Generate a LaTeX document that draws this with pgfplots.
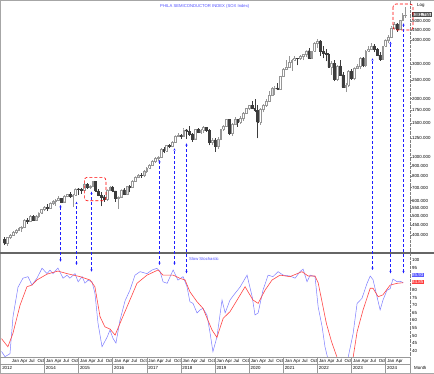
\documentclass[border=0pt]{standalone}
\usepackage{pgfplots}
\pgfplotsset{compat=1.18}
\usepackage{pgfplotstable}
\usepackage{fontspec}
\setmainfont{Liberation Sans}
\usetikzlibrary{arrows.meta}
\definecolor{kblue}{RGB}{125,125,255}
\definecolor{dred}{RGB}{255,70,70}
\definecolor{arrowblue}{RGB}{30,30,255}
\definecolor{titleblue}{RGB}{80,80,255}
\definecolor{candown}{RGB}{60,60,60}
\definecolor{cedge}{RGB}{150,150,150}
\definecolor{boxblue}{RGB}{90,90,255}
\definecolor{boxred}{RGB}{255,60,60}
\newcommand{\lbl}{\fontsize{4.4}{4.6}\selectfont}

\pgfplotstableread{
t o h l c
0 381 388 355 362
1 362 392 352 388
2 388 405 380 398
3 398 420 395 412
4 412 430 405 425
5 425 440 418 432
6 432 445 415 440
7 440 485 438 478
8 478 490 455 470
9 470 505 468 500
10 500 505 470 478
11 478 505 475 500
12 500 525 490 520
13 520 545 515 540
14 540 560 530 555
15 555 575 530 550
16 550 590 545 585
17 585 605 570 598
18 598 610 565 600
19 600 630 595 615
20 615 622 582 592
21 592 640 588 635
22 635 650 625 645
23 645 660 620 630
24 630 650 555 640
25 640 695 635 690
26 690 700 640 685
27 685 700 650 680
28 680 735 675 725
29 725 740 690 705
30 705 725 690 715
31 715 760 705 750
32 750 755 665 672
33 672 690 630 640
34 640 660 560 628
35 628 640 590 612
36 612 690 600 682
37 682 715 675 705
38 705 710 660 672
39 672 675 590 618
40 618 635 545 628
41 628 690 620 682
42 682 695 640 650
43 650 715 640 708
44 708 720 660 700
45 700 765 695 758
46 758 800 750 795
47 795 825 780 810
48 810 830 785 808
49 808 860 790 850
50 850 890 835 880
51 880 925 870 915
52 915 965 905 958
53 958 1000 940 990
54 990 1020 960 1005
55 1005 1110 1000 1097
56 1097 1130 1050 1074
57 1074 1160 1070 1151
58 1151 1170 1110 1135
59 1135 1210 1125 1200
60 1200 1300 1195 1290
61 1290 1340 1270 1295
62 1295 1320 1240 1277
63 1277 1410 1270 1385
64 1385 1395 1240 1358
65 1358 1440 1290 1318
66 1318 1340 1200 1245
67 1245 1400 1240 1394
68 1394 1420 1330 1346
69 1346 1400 1320 1374
70 1374 1440 1330 1422
71 1422 1430 1350 1379
72 1379 1390 1150 1196
73 1196 1260 1150 1230
74 1230 1250 1070 1134
75 1134 1270 1100 1233
76 1233 1400 1225 1391
77 1391 1470 1360 1450
78 1450 1580 1440 1561
79 1561 1570 1300 1330
80 1330 1500 1290 1481
81 1481 1600 1470 1568
82 1568 1580 1430 1510
83 1510 1620 1490 1589
84 1589 1700 1540 1686
85 1686 1800 1680 1790
86 1790 1860 1740 1845
87 1845 1950 1770 1785
88 1785 1980 1700 1745
89 1745 1850 1250 1510
90 1510 1800 1470 1771
91 1771 1870 1700 1855
92 1855 2000 1820 1942
93 1942 2180 1930 2090
94 2090 2290 2070 2268
95 2268 2320 2090 2270
96 2270 2400 2210 2227
97 2227 2620 2220 2604
98 2604 2860 2590 2835
99 2835 3150 2800 2907
100 2907 3300 2880 3080
101 3080 3180 2780 3150
102 3150 3320 3110 3224
103 3224 3230 2960 3216
104 3216 3350 3170 3298
105 3298 3400 3150 3362
106 3362 3550 3280 3521
107 3521 3620 3220 3230
108 3230 3520 3210 3498
109 3498 3900 3480 3856
110 3856 4040 3650 3950
111 3950 3990 3300 3495
112 3495 3700 3220 3436
113 3436 3580 3100 3385
114 3385 3420 2890 2910
115 2910 3100 2650 3040
116 3040 3150 2450 2518
117 2518 2960 2460 2940
118 2940 3150 2640 2650
119 2650 2740 2280 2291
120 2291 2400 2160 2340
121 2340 2800 2300 2750
122 2750 2830 2500 2532
123 2532 2900 2480 2880
124 2880 3020 2850 2940
125 2940 3260 2850 3230
126 3230 3250 2900 2950
127 2950 3550 2900 3500
128 3500 3700 3470 3580
129 3580 3860 3550 3730
130 3730 3800 3450 3590
131 3590 3620 3300 3330
132 3330 3450 3120 3190
133 3190 3720 3180 3700
134 3700 4050 3680 4010
135 4010 4250 3850 4130
136 4130 4700 4080 4620
137 4620 4950 4550 4830
138 4830 4860 4400 4560
139 4560 5080 4500 5030
140 5030 5470 5000 5330
141 5330 5905 5200 5380
}\ohlc

\begin{document}
\begin{tikzpicture}[x=1pt,y=1pt]
\useasboundingbox (0,0) rectangle (434,373);
\fill[white] (0,0) rectangle (434,373);

% ---------------- upper panel: candles (y = ln of the price) ----------------
\begin{axis}[at={(1.5pt,120pt)}, anchor=south west, width=408.5pt, height=251pt, scale only axis,
  xmin=-1.05, xmax=142.6, ymin=5.7777, ymax=8.7413,
  axis line style={draw=none}, xtick=\empty,
  ytick={5.9915,6.1092,6.2146,6.3099,6.3969,6.5511,6.6846,6.8024,6.9078,7.1309,7.3132,7.4674,7.6009,7.8240,8.0064,8.2940,8.4118,8.5172},
  yticklabels={400.000,450.000,500.000,550.000,600.000,700.000,800.000,900.000,1000.000,1250.000,1500.000,1750.000,2000.000,2500.000,3000.000,4000.000,4500.000,5000.000},
  ytick pos=right, yticklabel pos=right, tick align=outside, major tick length=1.6pt,
  tick style={gray, line width=0.3pt},
  yticklabel style={font=\lbl, anchor=west, inner sep=0.3pt},
  clip=false]
\pgfplotsforeachungrouped \i in {0,...,141}{%
  \pgfplotstablegetelem{\i}{t}\of\ohlc \let\myt\pgfplotsretval
  \pgfplotstablegetelem{\i}{o}\of\ohlc \let\myo\pgfplotsretval
  \pgfplotstablegetelem{\i}{h}\of\ohlc \let\myh\pgfplotsretval
  \pgfplotstablegetelem{\i}{l}\of\ohlc \let\myl\pgfplotsretval
  \pgfplotstablegetelem{\i}{c}\of\ohlc \let\myc\pgfplotsretval
  \pgfmathsetmacro{\mybot}{ln(min(\myo,\myc))}%
  \pgfmathsetmacro{\mytop}{ln(max(\myo,\myc))}%
  \pgfmathsetmacro{\mylo}{ln(\myl)}%
  \pgfmathsetmacro{\myhi}{ln(\myh)}%
  \pgfmathsetmacro{\myxl}{\myt-0.32}%
  \pgfmathsetmacro{\myxr}{\myt+0.32}%
  \ifdim\myc pt<\myo pt \def\myfill{candown}\def\myedge{candown}\def\mywick{candown}\else\def\myfill{white}\def\myedge{cedge}\def\mywick{cedge}\fi
  \edef\mytemp{\noexpand\addplot[draw=\mywick, line width=0.35pt, forget plot] coordinates {(\myt,\mylo) (\myt,\myhi)};
    \noexpand\addplot[draw=\myedge, fill=\myfill, line width=0.35pt, forget plot] coordinates {(\myxl,\mybot) (\myxr,\mybot) (\myxr,\mytop) (\myxl,\mytop) (\myxl,\mybot)};}%
  \mytemp
}
\end{axis}

% ---------------- lower panel: slow stochastic ----------------
\begin{axis}[at={(1.5pt,16pt)}, anchor=south west, width=408.5pt, height=103pt, scale only axis,
  xmin=-1.05, xmax=142.6, ymin=35.8, ymax=104,
  axis line style={draw=none}, major tick length=0pt,
  ytick={40,45,50,55,60,65,70,75,80,95,100},
  yticklabels={40,45,50,55,60,65,70,75,80,95,100},
  ytick pos=right, yticklabel pos=right,
  yticklabel style={font=\lbl, anchor=west, inner sep=0.3pt, xshift=1.6pt},
  xtick={3,6,...,138},
  xticklabels={Jan,Apr,Jul,Oct,Jan,Apr,Jul,Oct,Jan,Apr,Jul,Oct,Jan,Apr,Jul,Oct,Jan,Apr,Jul,Oct,Jan,Apr,Jul,Oct,Jan,Apr,Jul,Oct,Jan,Apr,Jul,Oct,Jan,Apr,Jul,Oct,Jan,Apr,Jul,Oct,Jan,Apr,Jul,Oct,Jan,Apr},
  xticklabel style={font=\lbl, anchor=west, inner sep=0pt, xshift=-1.3pt, yshift=-4pt},
  extra x ticks={-0.85,14.5,26.5,38.5,50.5,62.5,74.5,86.5,98.5,110.5,122.5,134.5},
  extra x tick labels={2012,2014,2015,2016,2017,2018,2019,2020,2021,2022,2023,2024},
  extra x tick style={xticklabel style={yshift=-7pt, xshift=1.3pt}},
  clip=true]
\addplot[kblue, line width=0.5pt] coordinates {
(-1.05,39.5) (0.18,36) (1.93,38) (3,62.5) (4.75,82) (6.5,88) (8.27,89) (9.67,83.4) (11.43,88) (13.2,94.6) (14.95,91) (16,93.3) (17.06,91) (18.8,94.7) (20.6,88) (22,90) (23,88) (24.8,91) (25.9,85.6) (27.3,89) (28.3,84.7) (29.4,86.7) (30.8,85.5) (31.8,78) (32.9,58) (34.3,42.6) (36.1,49) (37.1,53.6) (38.2,48) (39.2,45) (40.6,60) (42.4,73) (44.1,80) (45.9,90) (47.7,92.3) (50.1,91) (51.9,93.4) (53.6,94.5) (54.7,92.5) (55.75,85.6) (57.2,84.6) (59.3,93.4) (61,86.7) (62.8,89) (64.2,82.3) (65.2,72.4) (66.3,71.3) (67.7,65) (68.8,67) (69.8,68) (71.2,63.6) (72.3,51.6) (73.3,39.3) (74.7,49) (76.5,73.5) (77.6,65) (79.3,73.5) (81.1,78) (82.8,82) (85.3,90) (87.1,75.7) (88.1,63.6) (89.2,65) (90.9,80) (92.7,90) (94.4,89) (96.2,92.3) (98,90) (100.4,89.4) (102.2,88) (103.9,92.3) (105,94) (106.4,85.6) (107.5,90) (109.2,89) (110.3,69) (111.7,55.8) (112.7,42.6) (113.8,34) (115,22) (117,12) (119,8) (120.2,22) (120.9,36) (122.6,51.4) (124,71.3) (125.7,74.6) (127.5,84.6) (128.6,89.4) (129.6,87) (131,75.7) (132.1,67) (133.1,73.5) (134.5,80) (135.6,81) (136.6,87.4) (138.1,85.6) (139.1,86) (140.2,85)
};
\addplot[dred, line width=0.6pt] coordinates {
(-1.05,48) (0.18,45) (1.2,42.6) (3,51.6) (5.45,70) (7.9,82.3) (9.7,83.5) (11.4,86.8) (15,90.7) (18.8,92.7) (22,91) (26.6,89) (30.1,86.8) (31.8,82.3) (33.6,62.5) (35.3,55.8) (37.1,54.3) (38.9,50.3) (40.6,58) (44.1,73.5) (46.6,84.6) (50.1,90) (54,93.4) (55.75,90) (59.3,90) (61.7,87.9) (63.5,86.8) (65.2,79) (67.7,72.4) (69.8,68) (73,53.6) (74.7,48.8) (76.9,61.4) (79.3,65.8) (81.8,73.5) (84.6,82.3) (87.4,73.5) (89.2,71.3) (91.6,80) (94.1,86.8) (96.9,90) (100.4,89) (104.6,92.3) (106.8,89.4) (109.2,89.4) (110.3,85) (111.7,72) (113.2,58) (115,46) (116.9,35.8) (118.5,22) (120.3,18) (122,28) (122.8,38) (124,52.5) (126.1,67) (128.6,81.3) (129.6,81.3) (131.4,75.7) (133.1,77) (135.6,83.4) (138.1,84.6) (140.2,85)
};
\end{axis}

% ---------------- frames and rules ----------------
\draw[gray!70, line width=0.4pt] (0.3,0.3) rectangle (433.7,372.7);
\draw[black!60, line width=1.1pt] (0,120) -- (434,120);
\draw[gray, densely dotted, line width=0.3pt] (410,16) -- (410,372.7);
\draw[gray!80, line width=0.3pt] (0,16) -- (410,16);
\draw[gray!80, line width=0.3pt] (0,8.5) -- (410,8.5);
\draw[gray!80, line width=0.3pt] (410,0) -- (410,16);
\foreach \k in {0,...,10}{
  \pgfmathsetmacro{\xs}{1.5+(15.05+12*\k)*2.8437}
  \draw[gray!80, line width=0.3pt] (\xs,0) -- (\xs,16);
}

% ---------------- texts ----------------
\node[font=\fontsize{4.2}{5}\selectfont, text=titleblue, anchor=west, inner sep=0pt] at (160,367) {PHILA SEMICONDUCTOR INDEX (SOX Index)};
\node[font=\fontsize{4.2}{5}\selectfont, text=titleblue, anchor=west, inner sep=0pt] at (189,114) {Slow Stochastic};
\node[font=\lbl, anchor=west, inner sep=0pt] at (417,368) {Log};
\node[font=\lbl, anchor=west, inner sep=0pt] at (414,5) {Month};
\node[font=\lbl, anchor=west, fill=gray!25, draw=black!70, line width=0.3pt, inner sep=0.5pt] at (411.5,358.5) {5381.755};
\node[font=\lbl, anchor=west, fill=boxblue, text=white, inner sep=0.5pt] at (411.5,98) {85.93};
\node[font=\lbl, anchor=west, fill=boxred, text=white, inner sep=0.5pt] at (411.5,91) {84.85};

% ---------------- annotations ----------------
\draw[red, densely dashed, line width=0.6pt, rounded corners=3pt] (84.3,195.7) rectangle (106,172.3);
\draw[red, densely dashed, line width=0.6pt, rounded corners=3pt] (393,369) rectangle (413,343);
\foreach \xa/\ytop/\ybot in {60.5/205/261.7, 76.5/201.7/265, 91.5/191.7/271.7, 159.5/160/265, 174.5/148.3/265, 186.5/143.3/273.3, 372.5/58.3/270, 390.5/41.7/273.3, 403.5/23.3/273.3}{
  \draw[arrowblue, densely dashed, line width=0.75pt, {Stealth[length=2.4pt,width=2.2pt]}-{Stealth[length=2.4pt,width=2.2pt]}] (\xa,373-\ybot) -- (\xa,373-\ytop);
}
\end{tikzpicture}
\end{document}
